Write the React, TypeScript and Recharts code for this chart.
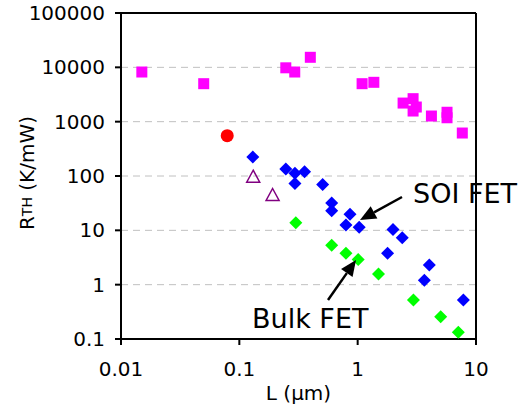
import React from 'react';
import { ScatterChart, Scatter, XAxis, YAxis, CartesianGrid, ReferenceLine } from 'recharts';

// channel length L (um) and thermal resistance RTH (K/mW) per group
const otherL = [0.015, 0.05, 0.247, 0.294, 0.398, 1.09, 1.37, 2.42, 2.94, 3.13, 2.94, 4.2, 5.69, 5.69, 7.66];
const otherR = [8200, 5000, 9800, 8200, 15300, 5000, 5300, 2200, 2650, 1860, 1570, 1270, 1490, 1180, 618];

const soiL = [0.13, 0.247, 0.295, 0.356, 0.295, 0.506, 0.603, 0.603, 0.861, 0.796, 1.03, 1.99, 2.38, 1.79, 4.03, 3.66, 7.82];
const soiR = [224, 134, 112, 120, 73, 70, 32, 23, 19.7, 12.5, 11.4, 10.4, 7.3, 3.78, 2.3, 1.2, 0.52];

const bulkL = [0.3, 0.603, 0.796, 1.01, 1.5, 2.96, 5.03, 7.09];
const bulkR = [13.8, 5.3, 3.78, 2.9, 1.57, 0.52, 0.258, 0.133];

const redL = [0.079];
const redR = [552];

const triL = [0.131, 0.191];
const triR = [97, 44.7];

const xTicks = [0.01, 0.1, 1, 10];
const yTicks = [0.1, 1, 10, 100, 1000, 10000, 100000];

const zip = (xs: number[], ys: number[]) => xs.map((x, i) => ({ x, y: ys[i] }));

const FONT = '"DejaVu Sans", Verdana, sans-serif';

const Square = (p: any) => <rect x={p.cx - 5.5} y={p.cy - 5.5} width={11} height={11} fill="#ff00ff" />;
const Diamond = (color: string) => (p: any) => (
    <polygon
        points={`${p.cx},${p.cy - 6.5} ${p.cx + 6.5},${p.cy} ${p.cx},${p.cy + 6.5} ${p.cx - 6.5},${p.cy}`}
        fill={color}
    />
);
const Dot = (p: any) => <circle cx={p.cx} cy={p.cy} r={6.5} fill="#ff0000" />;
const Triangle = (p: any) => (
    <polygon
        points={`${p.cx},${p.cy - 6.5} ${p.cx + 6.5},${p.cy + 5.5} ${p.cx - 6.5},${p.cy + 5.5}`}
        fill="none"
        stroke="#800080"
        strokeWidth={1.5}
    />
);

const RthLabel = (props: any) => {
    const vb = props.viewBox || { x: 0, y: 0, height: 0 };
    const cx = vb.x + 27;
    const cy = vb.y + vb.height / 2 - 3;
    return (
        <text
            x={cx}
            y={cy}
            transform={`rotate(-90 ${cx} ${cy})`}
            textAnchor="middle"
            dominantBaseline="central"
            fontFamily={FONT}
            fontSize={20}
            fill="#000"
        >
            R<tspan fontSize={14}>TH</tspan> (K/mW)
        </text>
    );
};

const Arrow = ({ x1, y1, x2, y2 }: { x1: number; y1: number; x2: number; y2: number }) => {
    const a = Math.atan2(y2 - y1, x2 - x1);
    const len = 16;
    const w = 7;
    const bx = x2 - len * Math.cos(a);
    const by = y2 - len * Math.sin(a);
    const px = -Math.sin(a) * w;
    const py = Math.cos(a) * w;
    return (
        <g>
            <line x1={x1} y1={y1} x2={bx} y2={by} stroke="#000" strokeWidth={2.5} />
            <polygon points={`${x2},${y2} ${bx + px},${by + py} ${bx - px},${by - py}`} fill="#000" />
        </g>
    );
};

export default function App() {
    return (
        <div style={{ position: 'absolute', left: 0, top: 0, width: 529, height: 409, background: '#fff' }}>
            <ScatterChart width={529} height={409} margin={{ top: 13, right: 53, left: 0, bottom: 0 }}>
                <CartesianGrid vertical={false} stroke="#c0c0c0" strokeDasharray="7 5" />
                <XAxis
                    type="number"
                    dataKey="x"
                    scale="log"
                    domain={[0.01, 10]}
                    ticks={xTicks}
                    allowDataOverflow
                    height={70}
                    stroke="#000"
                    strokeWidth={2}
                    tickSize={6}
                    tickMargin={17}
                    tick={{ fill: '#000', fontSize: 20, fontFamily: FONT }}
                    label={{ value: 'L (\u03bcm)', position: 'insideBottom', offset: 9, fill: '#000', fontSize: 20, fontFamily: FONT }}
                />
                <YAxis
                    type="number"
                    dataKey="y"
                    scale="log"
                    domain={[0.1, 100000]}
                    ticks={yTicks}
                    allowDataOverflow
                    width={121}
                    stroke="#000"
                    strokeWidth={2}
                    tickSize={6}
                    tickMargin={10}
                    tick={{ fill: '#000', fontSize: 20, fontFamily: FONT }}
                    label={{ content: RthLabel }}
                />
                <ReferenceLine y={100000} stroke="#000" strokeWidth={2} />
                <ReferenceLine x={10} stroke="#000" strokeWidth={2} />
                <Scatter data={zip(otherL, otherR)} shape={Square} isAnimationActive={false} />
                <Scatter data={zip(redL, redR)} shape={Dot} isAnimationActive={false} />
                <Scatter data={zip(triL, triR)} shape={Triangle} isAnimationActive={false} />
                <Scatter data={zip(soiL, soiR)} shape={Diamond('#0000ff')} isAnimationActive={false} />
                <Scatter data={zip(bulkL, bulkR)} shape={Diamond('#00ff00')} isAnimationActive={false} />
            </ScatterChart>
            <svg width={529} height={409} style={{ position: 'absolute', left: 0, top: 0, pointerEvents: 'none' }}>
                <text x={413} y={203} fontFamily={FONT} fontSize={27} fill="#000">SOI FET</text>
                <Arrow x1={402} y1={197} x2={360} y2={220} />
                <text x={252} y={328} fontFamily={FONT} fontSize={27} fill="#000">Bulk FET</text>
                <Arrow x1={328} y1={300} x2={356} y2={260} />
            </svg>
        </div>
    );
}
